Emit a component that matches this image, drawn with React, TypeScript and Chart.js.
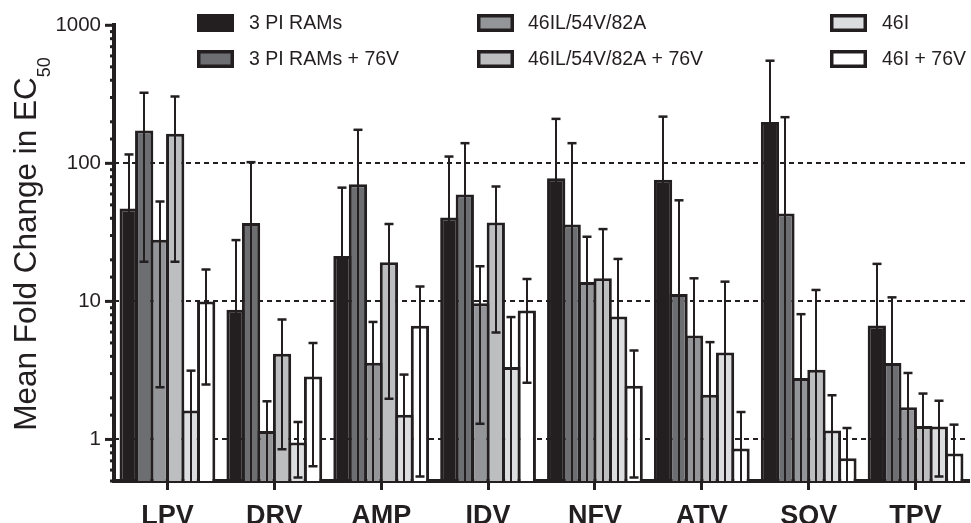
import React, { useEffect, useRef } from 'react';
import { Chart, registerables } from 'chart.js';

Chart.register(...registerables);

const categories = ['LPV', 'DRV', 'AMP', 'IDV', 'NFV', 'ATV', 'SQV', 'TPV'];
const seriesLabels = ['3 PI RAMs', '3 PI RAMs + 76V', '46IL/54V/82A', '46IL/54V/82A + 76V', '46I', '46I + 76V'];

const meanRams = [47, 8.7, 21.3, 40.5, 78, 76, 199, 6.7];
const upperRams = [116, 27.8, 66.7, 112, 210, 218, 554, 18.7];
const lowerRams = [0, 0, 0, 0, 0, 0, 0, 0];

const meanRams76 = [173, 37, 70.5, 59.4, 36, 11.3, 43.4, 3.58];
const upperRams76 = [324, 102, 175, 140, 140, 54, 216, 10.7];
const lowerRams76 = [19.4, 0, 0, 0, 0, 0, 0, 0];

const meanTriple = [28, 1.15, 3.6, 9.7, 13.8, 5.66, 2.79, 1.71];
const upperTriple = [53, 1.89, 7.1, 18, 29.4, 14.7, 8.08, 3.03];
const lowerTriple = [2.39, 0, 0, 1.3, 0, 0, 0, 0];

const meanTriple76 = [164, 4.18, 19.2, 37.3, 14.7, 2.11, 3.2, 1.25];
const upperTriple76 = [305, 7.4, 36.3, 68, 33.4, 5.07, 12.1, 2.15];
const lowerTriple76 = [19.4, 0.85, 1.97, 5.95, 0, 0, 0, 0];

const mean46I = [1.62, 0.95, 1.51, 3.35, 7.77, 4.27, 1.16, 1.24];
const upper46I = [3.15, 1.34, 2.95, 7.7, 20.3, 13.9, 2.09, 1.91];
const lower46I = [0, 0.53, 0, 0, 0, 0, 0, 0.54];

const mean46I76 = [10, 2.86, 6.65, 8.6, 2.45, 0.86, 0.73, 0.79];
const upper46I76 = [17, 4.99, 12.8, 14.5, 4.4, 1.58, 1.21, 1.28];
const lower46I76 = [2.5, 0.64, 0.54, 2.57, 0.53, 0, 0, 0];

const yTickLabels = [1, 10, 100, 1000];
const dashedGridValues = [1, 10, 100];
const yMin = 0.5;
const yMax = 1000;

const INK = '#231f20';
const fills = ['#231f20', '#6d6e71', '#939598', '#bcbec0', '#dcdddf', '#ffffff'];
const FONT = '"Liberation Sans", Arial, Helvetica, sans-serif';

const seriesMeans = [meanRams, meanRams76, meanTriple, meanTriple76, mean46I, mean46I76];
const seriesUppers = [upperRams, upperRams76, upperTriple, upperTriple76, upper46I, upper46I76];
const seriesLowers = [lowerRams, lowerRams76, lowerTriple, lowerTriple76, lower46I, lower46I76];

const isDecade = (v: number) => Math.abs(Math.log10(v) - Math.round(Math.log10(v))) < 1e-9;

const backgroundPlugin = {
  id: 'bgAndGrid',
  beforeDraw(chart: any) {
    const { ctx, width, height } = chart;
    ctx.save();
    ctx.fillStyle = '#ffffff';
    ctx.fillRect(0, 0, width, height);
    ctx.restore();
  },
  beforeDatasetsDraw(chart: any) {
    const { ctx, chartArea } = chart;
    const y = chart.scales.y;
    ctx.save();
    ctx.strokeStyle = INK;
    ctx.lineWidth = 2;
    ctx.setLineDash([5, 4]);
    dashedGridValues.forEach((v) => {
      const py = Math.round(y.getPixelForValue(v));
      ctx.beginPath();
      ctx.moveTo(chartArea.left, py);
      ctx.lineTo(chartArea.right, py);
      ctx.stroke();
    });
    ctx.restore();
  },
};

const errorBarPlugin = {
  id: 'errorBars',
  afterDatasetsDraw(chart: any) {
    const { ctx, chartArea } = chart;
    const y = chart.scales.y;
    ctx.save();
    ctx.strokeStyle = INK;
    chart.data.datasets.forEach((ds: any, i: number) => {
      const meta = chart.getDatasetMeta(i);
      meta.data.forEach((bar: any, j: number) => {
        const x = Math.round(bar.x);
        const hi = ds.errUpper[j];
        const lo = ds.errLower[j];
        const yHi = y.getPixelForValue(hi);
        const yLo = lo > yMin ? y.getPixelForValue(lo) : chartArea.bottom;
        ctx.lineWidth = 2;
        ctx.beginPath();
        ctx.moveTo(x, yHi);
        ctx.lineTo(x, yLo);
        ctx.stroke();
        ctx.lineWidth = 2.5;
        ctx.beginPath();
        ctx.moveTo(x - 4.5, yHi);
        ctx.lineTo(x + 4.5, yHi);
        if (lo > yMin) {
          ctx.moveTo(x - 4.5, yLo);
          ctx.lineTo(x + 4.5, yLo);
        }
        ctx.stroke();
      });
    });
    ctx.restore();
  },
};

const decorPlugin = {
  id: 'decor',
  afterDraw(chart: any) {
    const { ctx, chartArea } = chart;
    const y = chart.scales.y;
    ctx.save();
    ctx.strokeStyle = INK;
    ctx.lineWidth = 3;
    y.ticks.forEach((t: any) => {
      const v = t.value;
      if (v < yMin || v > yMax) return;
      const py = y.getPixelForValue(v);
      const len = isDecade(v) ? 9 : 4;
      ctx.beginPath();
      ctx.moveTo(chartArea.left - len, py);
      ctx.lineTo(chartArea.left, py);
      ctx.stroke();
    });

    // legend
    const colBoxX = [197, 477, 830];
    const colTextX = [249, 528, 882];
    const rowY = [23, 59];
    ctx.font = `19.5px ${FONT}`;
    ctx.textBaseline = 'middle';
    ctx.textAlign = 'left';
    seriesLabels.forEach((label, i) => {
      const col = Math.floor(i / 2);
      const row = i % 2;
      const bx = colBoxX[col];
      const by = rowY[row] - 9;
      ctx.fillStyle = INK;
      ctx.fillRect(bx, by, 37, 18);
      ctx.fillStyle = fills[i];
      ctx.fillRect(bx + 3.5, by + 3.5, 30, 11);
      ctx.fillStyle = INK;
      ctx.fillText(label, colTextX[col], rowY[row] + 1);
    });

    // y axis title with subscript
    const main = 'Mean Fold Change in EC';
    const sub = '50';
    ctx.font = `31.5px ${FONT}`;
    const w1 = ctx.measureText(main).width;
    ctx.font = `18px ${FONT}`;
    const w2 = ctx.measureText(sub).width;
    const total = w1 + w2;
    const cy = 244;
    ctx.translate(36, cy);
    ctx.rotate(-Math.PI / 2);
    ctx.textBaseline = 'alphabetic';
    ctx.fillStyle = INK;
    ctx.font = `31.5px ${FONT}`;
    ctx.fillText(main, -total / 2, 0);
    ctx.font = `18px ${FONT}`;
    ctx.fillText(sub, -total / 2 + w1, 14);
    ctx.restore();
  },
};

export default function App() {
  const canvasRef = useRef<HTMLCanvasElement | null>(null);

  useEffect(() => {
    const canvas = canvasRef.current;
    if (!canvas) return;
    const datasets = seriesLabels.map((label, i) => ({
      label,
      data: seriesMeans[i],
      errUpper: seriesUppers[i],
      errLower: seriesLowers[i],
      backgroundColor: fills[i],
      borderColor: INK,
      borderWidth: 3,
      borderSkipped: 'start',
      categoryPercentage: 0.87,
      barPercentage: 1.18,
    }));

    const chart = new Chart(canvas, {
      type: 'bar',
      data: { labels: categories, datasets: datasets as any },
      options: {
        animation: false,
        responsive: false,
        devicePixelRatio: 1,
        layout: { padding: { left: 0, right: 2, top: 25, bottom: 0 } },
        plugins: {
          legend: { display: false },
          tooltip: { enabled: false },
          title: { display: false },
        },
        scales: {
          x: {
            offset: true,
            grid: {
              display: true,
              drawOnChartArea: false,
              offset: false,
              drawTicks: true,
              tickLength: 9,
              tickWidth: 3,
              tickColor: INK,
              color: INK,
            },
            border: { display: true, color: INK, width: 4 },
            ticks: {
              color: INK,
              font: { family: FONT, size: 27, weight: 'bold' },
              padding: 10,
              maxRotation: 0,
              autoSkip: false,
            },
            afterFit(scale: any) {
              scale.height = 42;
            },
          },
          y: {
            type: 'logarithmic',
            min: yMin,
            max: yMax,
            grid: { display: false, drawTicks: false },
            border: { display: true, color: INK, width: 4 },
            ticks: {
              color: INK,
              font: { family: FONT, size: 20.5 },
              padding: 13,
              autoSkip: false,
              callback: (value: any) => (yTickLabels.includes(Number(value)) ? String(value) : ''),
            },
            afterFit(scale: any) {
              scale.width = 114;
            },
          },
        },
      },
      plugins: [backgroundPlugin, errorBarPlugin, decorPlugin],
    });

    return () => chart.destroy();
  }, []);

  return (
    <div style={{ position: 'fixed', left: 0, top: 0, width: 971, height: 523, background: '#fff' }}>
      <canvas ref={canvasRef} width={971} height={523} style={{ display: 'block', width: 971, height: 523 }} />
    </div>
  );
}
